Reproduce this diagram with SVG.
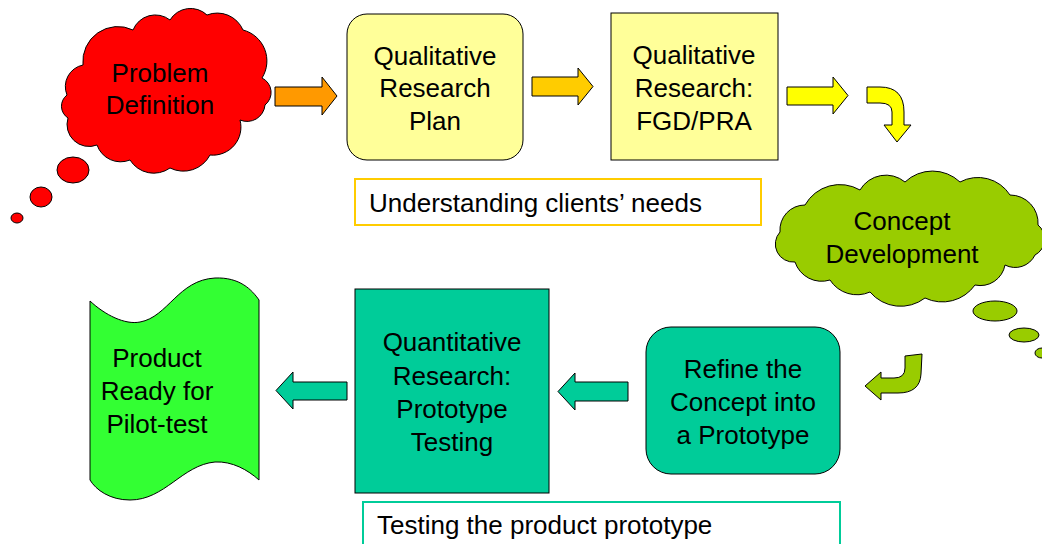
<svg xmlns="http://www.w3.org/2000/svg" width="1042" height="544" viewBox="0 0 1042 544">
<style>
text{font-family:"Liberation Sans",Arial,sans-serif;font-size:26px;fill:#000;text-anchor:middle}
.sh{stroke:#000;stroke-width:1}
.lbl{text-anchor:start}
</style>
<rect width="1042" height="544" fill="#fff"/>
<g id="connectors">
<polygon class="sh" fill="#FF9900" points="275,87 322,87 322,77 337,96 322,115 322,106 275,106"/>
<polygon class="sh" fill="#FFCC00" points="532,77 578,77 578,68 593,86.5 578,105 578,96 532,96"/>
<polygon class="sh" fill="#FFFF00" points="787,87 833,87 833,77 848,95.5 833,114 833,105 787,105"/>
<path class="sh" fill="#FFFF00" d="M867,87 L880,87 Q904,87 904,112 L904,125 L911,125 L897,142 L884,125 L892,125 L892,112 Q892,103 880,103 L867,103 Z"/>
<path class="sh" fill="#99CC00" d="M905,356 L922,354 L921,374 Q920,393 898,393 L881,393 L881,400 L865,386 L881,372 L881,378 L894,378 Q905,378 905,368 Z"/>
<polygon class="sh" fill="#00CC99" points="628,382 575,382 575,373 558,391.5 575,410 575,401 628,401"/>
<polygon class="sh" fill="#00CC99" points="347,382 293,382 293,372 276,390.5 293,409 293,400 347,400"/>
</g>
<g id="problem">
<path class="sh" fill="#FF0000" d="M67,95 A22,22 0 0 1 83,65 A35,35 0 0 1 133,30 A24,24 0 0 1 170,20 A24,24 0 0 1 207,15 A28,28 0 0 1 243,30 A32,32 0 0 1 262,78 A16,16 0 0 1 265,105 A18,18 0 0 1 240,120 A28,28 0 0 1 210,155 A30,30 0 0 1 170,168 A28,28 0 0 1 130,160 A25,25 0 0 1 97,145 A22,22 0 0 1 68,118 A14,14 0 0 1 67,95 Z"/>
<ellipse class="sh" fill="#FF0000" cx="73" cy="170" rx="16" ry="13"/>
<ellipse class="sh" fill="#FF0000" cx="41" cy="197" rx="11" ry="10"/>
<ellipse class="sh" fill="#FF0000" cx="17" cy="218" rx="6" ry="5"/>
<text x="160" y="82">Problem</text>
<text x="160" y="114">Definition</text>
</g>
<g id="plan">
<rect class="sh" fill="#FFFF99" x="347" y="14" width="176" height="146" rx="20"/>
<text x="435" y="65">Qualitative</text>
<text x="435" y="97">Research</text>
<text x="435" y="130">Plan</text>
</g>
<g id="fgd">
<rect class="sh" fill="#FFFF99" x="611" y="13" width="167" height="147"/>
<text x="694" y="64">Qualitative</text>
<text x="694" y="97">Research:</text>
<text x="694" y="130">FGD/PRA</text>
</g>
<g id="understanding">
<rect x="355" y="179" width="406" height="46" fill="#fff" stroke="#FFCC00" stroke-width="2"/>
<text class="lbl" x="369" y="212">Understanding clients’ needs</text>
</g>
<g id="concept">
<path class="sh" fill="#99CC00" d="M780,232 A25,25 0 0 1 805,205 A40,40 0 0 1 860,190 A30,30 0 0 1 905,182 A40,40 0 0 1 960,182 A38,38 0 0 1 1010,195 A28,28 0 0 1 1038,225 A18,18 0 0 1 1035,255 A22,22 0 0 1 1005,265 A25,25 0 0 1 975,285 A40,40 0 0 1 925,298 A40,40 0 0 1 870,292 A32,32 0 0 1 830,280 A28,28 0 0 1 795,262 A18,18 0 0 1 780,232 Z"/>
<ellipse class="sh" fill="#99CC00" cx="995" cy="311" rx="22" ry="10"/>
<ellipse class="sh" fill="#99CC00" cx="1024" cy="335" rx="15" ry="7"/>
<ellipse class="sh" fill="#99CC00" cx="1042" cy="353" rx="7" ry="5"/>
<text x="902" y="230">Concept</text>
<text x="902" y="263">Development</text>
</g>
<g id="refine">
<rect class="sh" fill="#00CC99" x="646" y="327" width="194" height="147" rx="25"/>
<text x="743" y="378">Refine the</text>
<text x="743" y="411">Concept into</text>
<text x="743" y="444">a Prototype</text>
</g>
<g id="quant">
<rect class="sh" fill="#00CC99" x="355" y="289" width="194" height="204"/>
<text x="452" y="351">Quantitative</text>
<text x="452" y="385">Research:</text>
<text x="452" y="418">Prototype</text>
<text x="452" y="451">Testing</text>
</g>
<g id="product">
<path class="sh" fill="#33FF33" d="M90,301 C105,315 125,325 140,322 C168,317 178,280 215,278 C240,277 252,290 259,300 L259,480 C248,470 232,461 215,462 C182,465 165,500 130,500 C110,500 96,490 90,480 Z"/>
<text x="157" y="367">Product</text>
<text x="157" y="400">Ready for</text>
<text x="157" y="433">Pilot-test</text>
</g>
<g id="testing">
<rect x="363" y="502" width="477" height="50" fill="#fff" stroke="#00CC99" stroke-width="2"/>
<text class="lbl" x="377" y="534">Testing the product prototype</text>
</g>
</svg>
